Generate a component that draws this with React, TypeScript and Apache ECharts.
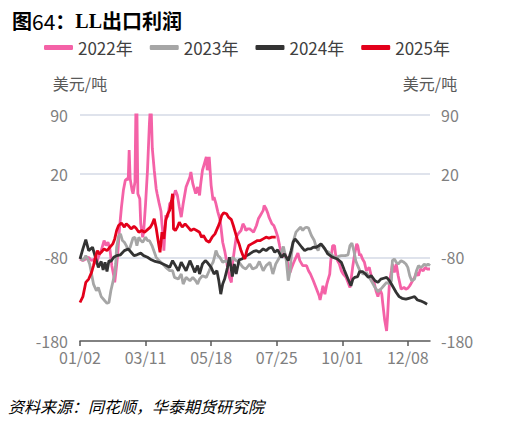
import React, { useEffect, useRef } from "react";
import * as echarts from "echarts";

// ---- data (x = day index from 01/02, y = USD/t) ----
const yTickValues = [-180, -80, 20, 90];
const gridLineValues = [90, 20, -80];
const labelEvery = 68;
const seriesNames = ["2022年", "2023年", "2024年", "2025年"];
const seriesColors = ["#F462A7", "#A6A6A6", "#333333", "#E3001B"];

const s2022: [number, number][] = [
  [0, -82], [3, -84], [6, -82], [9, -80], [12, -84], [15, -82], [17, -88], [19, -80], [22, -72], [25, -60],
  [27, -66], [29, -62], [31, -70], [33, -90], [35, -102], [36, -110], [37, -100], [39, -78], [41, -45], [43, -20],
  [45, 0], [47, 12], [49, 14], [50, 12], [51, 48], [52, 14], [54, 0], [55, -4], [57, 10], [58, 100],
  [59, 100], [60, -4], [62, -10], [63, -40], [65, -56], [66, -50], [68, -16], [70, 24], [72, 80], [73, 100],
  [74, 90], [75, 50], [77, 24], [79, 2], [80, -4], [82, -15], [84, -25], [85, -40], [86, -52], [87, -72],
  [89, -30], [91, -32], [93, -16], [96, -12], [99, 0], [101, -6], [103, -20], [105, -32], [107, -16], [110, 4],
  [112, 10], [114, 16], [115, 22], [117, 8], [120, -4], [122, 4], [124, -6], [125, 6], [127, 24], [129, 32],
  [131, 40], [132, 24], [134, 40], [136, 6], [138, -12], [139, -8], [141, -16], [143, -26], [145, -34], [146, -42],
  [148, -62], [150, -72], [152, -84], [153, -92], [155, -104], [157, -110], [158, -90], [160, -72], [162, -56], [164, -52],
  [167, -48], [169, -40], [171, -44], [172, -48], [174, -46], [176, -46], [178, -48], [180, -50], [183, -42], [185, -34],
  [187, -30], [189, -26], [190, -24], [191, -18], [193, -22], [195, -28], [196, -32], [199, -40], [201, -42], [203, -48],
  [205, -55], [207, -66], [209, -76], [211, -80], [212, -74], [214, -80], [216, -90], [218, -98], [219, -94], [221, -88],
  [224, -80], [226, -75], [228, -84], [231, -90], [235, -90], [237, -96], [239, -100], [242, -108], [246, -120], [248, -126],
  [249, -131], [251, -120], [252, -114], [253, -120], [254, -124], [256, -112], [257, -108], [259, -100], [260, -85], [262, -66],
  [264, -66], [265, -76], [267, -84], [269, -88], [271, -96], [273, -100], [276, -104], [278, -110], [280, -116], [281, -108],
  [283, -90], [285, -75], [287, -64], [288, -66], [290, -78], [291, -76], [293, -82], [295, -86], [297, -96], [300, -92],
  [302, -102], [305, -110], [307, -120], [309, -127], [311, -118], [313, -124], [314, -135], [316, -155], [318, -168], [319, -150],
  [320, -128], [321, -110], [323, -96], [324, -88], [326, -98], [328, -88], [330, -102], [333, -118], [336, -116], [338, -118],
  [340, -117], [342, -114], [344, -110], [347, -104], [349, -98], [351, -102], [353, -94], [356, -96], [358, -92], [360, -94],
  [363, -94],
];

const s2023: [number, number][] = [
  [0, -80], [3, -84], [6, -78], [8, -82], [10, -88], [12, -100], [14, -112], [17, -120], [19, -116], [22, -127],
  [25, -131], [28, -135], [30, -134], [32, -120], [34, -110], [36, -100], [37, -88], [38, -68], [40, -55], [42, -52],
  [44, -60], [46, -62], [48, -66], [50, -72], [52, -68], [55, -57], [57, -56], [59, -66], [61, -56], [63, -60],
  [65, -62], [68, -56], [70, -60], [72, -60], [75, -67], [79, -80], [82, -84], [86, -88], [89, -92], [93, -96],
  [96, -96], [98, -104], [102, -106], [105, -100], [107, -112], [110, -104], [114, -108], [117, -104], [120, -108], [122, -112],
  [124, -106], [127, -102], [131, -104], [134, -96], [136, -90], [138, -86], [139, -82], [141, -72], [143, -78], [145, -80],
  [148, -86], [151, -84], [155, -88], [158, -80], [162, -84], [165, -86], [169, -92], [172, -94], [176, -88], [179, -94],
  [183, -92], [186, -85], [190, -96], [193, -90], [197, -86], [200, -100], [203, -88], [207, -80], [211, -67], [214, -84],
  [216, -108], [218, -96], [219, -80], [221, -62], [224, -50], [227, -46], [229, -44], [231, -48], [233, -45], [235, -44],
  [237, -45], [240, -54], [243, -60], [245, -68], [247, -72], [249, -64], [252, -67], [255, -72], [258, -74], [262, -78],
  [265, -81], [268, -79], [271, -78], [275, -78], [278, -77], [280, -66], [282, -63], [284, -72], [286, -84], [288, -90],
  [291, -98], [294, -100], [297, -98], [300, -104], [303, -110], [306, -116], [309, -121], [312, -118], [315, -114], [318, -110],
  [321, -112], [323, -108], [324, -84], [326, -82], [328, -86], [330, -88], [333, -84], [336, -86], [338, -88], [340, -92],
  [342, -102], [344, -108], [347, -106], [349, -96], [351, -90], [353, -92], [355, -91], [357, -88], [359, -90], [361, -88],
  [363, -90],
];

const s2024: [number, number][] = [
  [0, -82], [3, -70], [6, -59], [9, -72], [13, -68], [16, -80], [19, -92], [22, -85], [24, -95], [26, -86],
  [28, -97], [30, -84], [32, -85], [35, -80], [38, -78], [42, -77], [46, -72], [50, -70], [53, -74], [56, -78],
  [59, -77], [63, -75], [66, -78], [70, -80], [74, -83], [78, -85], [82, -86], [86, -88], [90, -90], [93, -92],
  [96, -84], [99, -90], [102, -96], [105, -86], [108, -92], [110, -96], [114, -84], [117, -92], [119, -98], [122, -90],
  [124, -100], [127, -88], [130, -84], [132, -86], [136, -92], [139, -100], [142, -96], [144, -108], [146, -124], [148, -112],
  [150, -106], [153, -92], [155, -80], [158, -103], [160, -88], [162, -100], [165, -83], [168, -82], [170, -80], [173, -78],
  [176, -76], [180, -73], [183, -72], [186, -74], [190, -70], [193, -72], [196, -69], [199, -68], [202, -74], [205, -71],
  [209, -80], [212, -76], [216, -84], [219, -72], [221, -62], [223, -58], [226, -62], [230, -68], [233, -72], [236, -70],
  [239, -70], [242, -68], [245, -68], [248, -66], [250, -64], [254, -70], [257, -76], [262, -80], [267, -82], [271, -86],
  [274, -95], [278, -106], [281, -114], [283, -106], [285, -104], [288, -103], [290, -97], [293, -97], [296, -100], [299, -104],
  [302, -102], [306, -108], [309, -110], [312, -106], [315, -105], [318, -104], [321, -108], [324, -114], [328, -122], [331, -127],
  [334, -129], [338, -130], [341, -129], [344, -128], [347, -127], [350, -131], [353, -132], [357, -134], [360, -136],
];

const s2025: [number, number][] = [
  [0, -134], [3, -127], [6, -110], [9, -106], [12, -98], [14, -90], [16, -80], [18, -72], [20, -76], [22, -74],
  [25, -70], [28, -72], [31, -68], [34, -64], [36, -58], [38, -48], [40, -42], [43, -39], [46, -44], [48, -40],
  [50, -42], [53, -46], [56, -43], [58, -45], [61, -50], [64, -48], [67, -50], [70, -47], [73, -44], [75, -40],
  [77, -34], [79, -45], [81, -60], [83, -74], [85, -50], [87, -58], [89, -36], [91, -28], [93, -24], [95, -12],
  [96, -4], [97, -46], [99, -48], [101, -44], [103, -38], [106, -44], [109, -40], [112, -44], [115, -48], [118, -46],
  [121, -48], [124, -50], [126, -56], [128, -54], [131, -60], [134, -62], [137, -56], [140, -52], [143, -44], [145, -38],
  [147, -30], [149, -27], [152, -28], [154, -32], [157, -35], [159, -42], [161, -50], [163, -58], [165, -64], [167, -72],
  [169, -78], [171, -82], [173, -72], [175, -66], [178, -64], [181, -62], [184, -60], [187, -60], [190, -58], [193, -56],
  [196, -57], [199, -56], [203, -56],
];

const seriesData = [s2022, s2023, s2024, s2025];

// category labels MM/DD from 01/02 to 12/31
const categories: string[] = [];
for (let i = 0; i < 364; i++) {
  const d = new Date(Date.UTC(2023, 0, 2 + i));
  const mm = String(d.getUTCMonth() + 1).padStart(2, "0");
  const dd = String(d.getUTCDate()).padStart(2, "0");
  categories.push(`${mm}/${dd}`);
}

const FONT = "'Noto Sans CJK SC', 'Noto Sans', sans-serif";

export default function App() {
  const ref = useRef<HTMLDivElement>(null);
  useEffect(() => {
    if (!ref.current) return;
    const chart = echarts.init(ref.current, null, { renderer: "svg" });
    const yAxisBase = {
      type: "value",
      min: -180,
      max: 90,
      name: "美元/吨",
      nameLocation: "end",
      nameGap: 24,
      nameTextStyle: { color: "#595959", fontSize: 16, fontFamily: FONT },
      axisLine: { show: false },
      axisTick: { show: false, customValues: yTickValues },
      axisLabel: { customValues: yTickValues, color: "#7F7F7F", fontSize: 16, fontFamily: FONT },
      splitLine: { show: false },
    };
    const lineSeries = seriesNames.map((name, i) => ({
      name,
      type: "line",
      data: seriesData[i],
      showSymbol: false,
      symbol: "none",
      clip: true,
      lineStyle: { color: seriesColors[i], width: 2.8 },
      itemStyle: { color: seriesColors[i] },
      z: 3 + i,
      ...(i === 0
        ? {
            markLine: {
              silent: true,
              z: 1,
              symbol: "none",
              animation: false,
              label: { show: false },
              lineStyle: { color: "#D5DAE6", width: 1.5, type: "solid" },
              data: gridLineValues.map((v) => ({ yAxis: v })),
            },
          }
        : {}),
    }));
    chart.setOption({
      animation: false,
      backgroundColor: "#ffffff",
      title: {
        text: "{a|图}{b|64}{a|：}{c|LL}{a|出口利润}",
        left: 7,
        top: 5,
        textStyle: {
          rich: {
            a: { fontSize: 20, fontWeight: "bold", color: "#000", fontFamily: FONT },
            b: { fontSize: 21, fontWeight: "normal", color: "#000", fontFamily: FONT },
            c: { fontSize: 20, fontWeight: "bold", color: "#000", fontFamily: "'Liberation Serif', serif" },
          },
        },
      },
      legend: {
        left: 39,
        top: 34,
        icon: "roundRect",
        itemWidth: 29,
        itemHeight: 5,
        itemGap: 17,
        textStyle: { color: "#404040", fontSize: 17, fontFamily: FONT },
        data: seriesNames,
      },
      grid: { left: 80, right: 89, top: 115, bottom: 85, containLabel: false },
      xAxis: {
        type: "category",
        data: categories,
        boundaryGap: false,
        axisLine: { onZero: false, lineStyle: { color: "#595959", width: 1.5 } },
        axisTick: { interval: labelEvery - 1, length: 5, lineStyle: { color: "#595959", width: 1.5 } },
        axisLabel: { interval: labelEvery - 1, color: "#7F7F7F", fontSize: 16, margin: 8, fontFamily: FONT },
        splitLine: { show: false },
      },
      yAxis: [
        { ...yAxisBase, position: "left", axisLabel: { ...yAxisBase.axisLabel, margin: 12 } },
        { ...yAxisBase, position: "right", axisLabel: { ...yAxisBase.axisLabel, margin: 11 } },
      ],
      graphic: [
        {
          type: "text",
          left: 8,
          top: 398,
          style: {
            text: "资料来源：同花顺，华泰期货研究院",
            fill: "#000",
            fontSize: 16,
            fontStyle: "italic",
            fontFamily: FONT,
          },
        },
      ],
      series: lineSeries,
    });
    return () => chart.dispose();
  }, []);
  return <div ref={ref} style={{ position: "fixed", left: 0, top: 0, width: 519, height: 426 }} />;
}
